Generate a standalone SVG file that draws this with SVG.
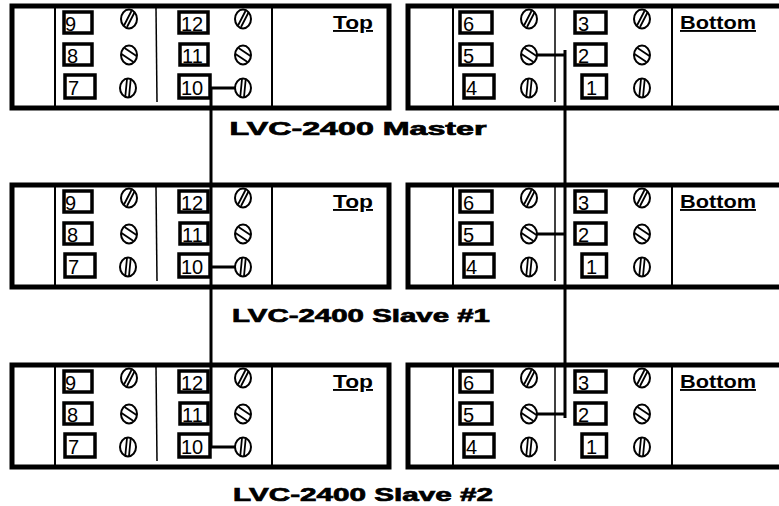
<svg xmlns="http://www.w3.org/2000/svg" xmlns:xlink="http://www.w3.org/1999/xlink" width="779" height="506" viewBox="0 0 779 506">
<style>
.frame{fill:#fff;stroke:#000;stroke-width:5}
.div{stroke:#000;stroke-width:2;fill:none}
.thin{stroke:#000;stroke-width:1.5;fill:none}
.box{fill:#fff;stroke:#000;stroke-width:3.5}
.num{font-family:"Liberation Sans",Arial,sans-serif;font-size:20px;fill:#000}
.side{font-family:"Liberation Sans",Arial,sans-serif;font-size:19px;font-weight:bold;fill:#000;text-decoration:underline}
.title{font-family:"Liberation Sans",Arial,sans-serif;font-size:19px;font-weight:bold;fill:#000;stroke:#000;stroke-width:0.7;text-anchor:middle}
.wire{stroke:#000;stroke-width:3;fill:none}
.slot{stroke:#000;stroke-width:1.8;fill:none}
</style>
<defs>
<g id="s1"><ellipse rx="8" ry="9.5" fill="#fff" stroke="#000" stroke-width="2"/><path class="slot" d="M-5 6.5L2.5-8M-2 8L5.5-6.5"/></g>
<g id="s2"><ellipse rx="8" ry="9.5" fill="#fff" stroke="#000" stroke-width="2"/><path class="slot" d="M-7.5-1L4.5 7M-4.5-7L7.5 1"/></g>
<g id="s3"><ellipse rx="8" ry="9.5" fill="#fff" stroke="#000" stroke-width="2"/><path class="slot" d="M-2.7 8.5L-1-9M1 9L2.7-8.5"/></g>
<g id="topPanel">
<rect class="frame" x="12" y="6" width="377" height="102"/>
<line class="div" x1="55" y1="6" x2="55" y2="108"/>
<line class="thin" x1="156" y1="8" x2="157" y2="102"/>
<line class="div" x1="272" y1="6" x2="272" y2="108"/>
<rect class="box" x="64" y="12" width="28" height="21"/><text class="num" x="65" y="31">9</text>
<rect class="box" x="64" y="44" width="28" height="21"/><text class="num" x="67" y="63">8</text>
<rect class="box" x="65" y="75" width="30" height="23"/><text class="num" x="68" y="95">7</text>
<rect class="box" x="179" y="12" width="29" height="21"/><text class="num" x="181" y="31">12</text>
<rect class="box" x="180" y="44" width="28" height="21"/><text class="num" x="182" y="63">11</text>
<rect class="box" x="179" y="75" width="31" height="23"/><text class="num" x="181" y="95">10</text>
<use xlink:href="#s1" x="129" y="19"/><use xlink:href="#s2" x="129" y="55"/><use xlink:href="#s3" x="128" y="88"/>
<use xlink:href="#s1" x="243" y="19"/><use xlink:href="#s2" x="243" y="55"/><use xlink:href="#s3" x="243" y="88"/>
<text class="side" x="333" y="29" textLength="40" lengthAdjust="spacingAndGlyphs">Top</text>
</g>
<g id="bottomPanel">
<rect class="frame" x="408" y="6" width="400" height="102"/>
<line class="div" x1="453" y1="6" x2="453" y2="108"/>
<line class="thin" x1="555" y1="8" x2="555" y2="102"/>
<line class="div" x1="672" y1="6" x2="672" y2="108"/>
<rect class="box" x="460" y="12" width="32" height="21"/><text class="num" x="463" y="31">6</text>
<rect class="box" x="460" y="44" width="32" height="21"/><text class="num" x="463" y="63">5</text>
<rect class="box" x="464" y="75" width="30" height="23"/><text class="num" x="466" y="95">4</text>
<rect class="box" x="575" y="12" width="31" height="21"/><text class="num" x="578" y="31">3</text>
<rect class="box" x="575" y="44" width="31" height="21"/><text class="num" x="578" y="63">2</text>
<rect class="box" x="582" y="75" width="24.5" height="23"/><text class="num" x="586" y="95">1</text>
<use xlink:href="#s1" x="529" y="19"/><use xlink:href="#s2" x="529" y="55"/><use xlink:href="#s3" x="529" y="88"/>
<use xlink:href="#s1" x="642" y="19"/><use xlink:href="#s2" x="642" y="55"/><use xlink:href="#s3" x="642" y="88"/>
<text class="side" x="680" y="29" textLength="76" lengthAdjust="spacingAndGlyphs">Bottom</text>
</g>
</defs>
<rect width="779" height="506" fill="#fff"/>
<g id="master">
<use id="master-top" xlink:href="#topPanel"/>
<use id="master-bottom" xlink:href="#bottomPanel"/>
<text class="title" x="358" y="135" textLength="257" lengthAdjust="spacingAndGlyphs">LVC-2400 Master</text>
</g>
<g id="slave1">
<use id="slave1-top" xlink:href="#topPanel" y="179"/>
<use id="slave1-bottom" xlink:href="#bottomPanel" y="179"/>
<text class="title" x="361" y="322" textLength="258" lengthAdjust="spacingAndGlyphs">LVC-2400 Slave #1</text>
</g>
<g id="slave2">
<use id="slave2-top" xlink:href="#topPanel" y="359"/>
<use id="slave2-bottom" xlink:href="#bottomPanel" y="359"/>
<text class="title" x="363" y="501" textLength="260" lengthAdjust="spacingAndGlyphs">LVC-2400 Slave #2</text>
</g>
<g id="connectors">
<path class="wire" d="M211 88V447M211 88H235M211 267H235M211 447H235"/>
<path class="wire" d="M565 50V418M537 55H565M537 234H565M537 414H565"/>
</g>
</svg>
